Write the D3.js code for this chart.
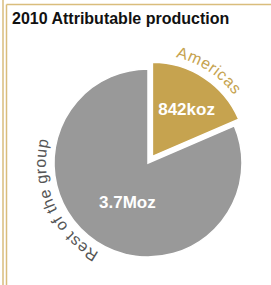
<!DOCTYPE html>
<html>
<head>
<meta charset="utf-8">
<script src="https://cdn.jsdelivr.net/npm/d3@7"></script>
<style>
  body { margin: 0; background: #fff; }
  text { font-family: "Liberation Sans", Arial, sans-serif; }
</style>
</head>
<body>
<div id="chart"></div>
<script>
// data
var title = "2010 Attributable production";
var categories = ["Americas", "Rest of the group"];
var values = [842, 3700]; // koz
var valueLabels = ["842koz", "3.7Moz"];

var colors = ["#C6A34F", "#999999"];
var width = 271, height = 285;
var cx = 148, cy = 163, radius = 94;

var svg = d3.select("#chart").append("svg")
  .attr("width", width)
  .attr("height", height);

// frame lines
var frame = "#D9BD7C";
svg.append("line").attr("x1", 3).attr("y1", 0).attr("x2", 3).attr("y2", height)
  .attr("stroke", frame).attr("stroke-width", 1.5);
svg.append("line").attr("x1", 6.5).attr("y1", 4.5).attr("x2", 6.5).attr("y2", height)
  .attr("stroke", frame).attr("stroke-width", 1.5);
svg.append("line").attr("x1", 6.5).attr("y1", 4.5).attr("x2", width).attr("y2", 4.5)
  .attr("stroke", frame).attr("stroke-width", 1.5);

svg.append("text")
  .attr("x", 12)
  .attr("y", 24)
  .attr("font-size", 16)
  .attr("font-weight", "bold")
  .attr("fill", "#111")
  .text(title);

var pie = d3.pie().sort(null).value(function(d) { return d; });
var arcs = pie(values);

var arc = d3.arc().innerRadius(0).outerRadius(radius);

// americas slice pulled out a bit
var explode = [8, 0];
// where the curved names sit (angle in degrees, clockwise from top)
var nameAngle = [null, 246];
var valueRadius = [0.62, 0.47];
var valueAngleShift = [2.5, -5.5];

var g = svg.append("g").attr("transform", "translate(" + cx + "," + cy + ")");

arcs.forEach(function(a, i) {
  var mid = (a.startAngle + a.endAngle) / 2;
  var dx = Math.sin(mid) * explode[i];
  var dy = -Math.cos(mid) * explode[i];
  var sg = g.append("g").attr("transform", "translate(" + dx + "," + dy + ")");

  sg.append("path")
    .attr("d", arc(a))
    .attr("fill", colors[i])
    .attr("stroke", "#fff")
    .attr("stroke-width", 1.5);

  // value label
  var va = mid + valueAngleShift[i] * Math.PI / 180;
  var vr = radius * valueRadius[i];
  sg.append("text")
    .attr("x", Math.sin(va) * vr)
    .attr("y", -Math.cos(va) * vr + 6)
    .attr("text-anchor", "middle")
    .attr("font-size", 17)
    .attr("font-weight", "bold")
    .attr("fill", "#fff")
    .text(valueLabels[i]);

  // curved category name
  var la = nameAngle[i] == null ? mid : nameAngle[i] * Math.PI / 180;
  var p = d3.path();
  p.arc(0, 0, radius + 8, la - Math.PI / 2 - 1.2, la - Math.PI / 2 + 1.2, false);
  sg.append("path")
    .attr("id", "lab" + i)
    .attr("d", p.toString())
    .attr("fill", "none");
  sg.append("text")
    .attr("font-size", 16)
    .attr("letter-spacing", 0.6)
    .attr("fill", i == 0 ? colors[0] : "#555")
    .append("textPath")
    .attr("href", "#lab" + i)
    .attr("startOffset", "50%")
    .attr("text-anchor", "middle")
    .text(categories[i]);
});
</script>
</body>
</html>
